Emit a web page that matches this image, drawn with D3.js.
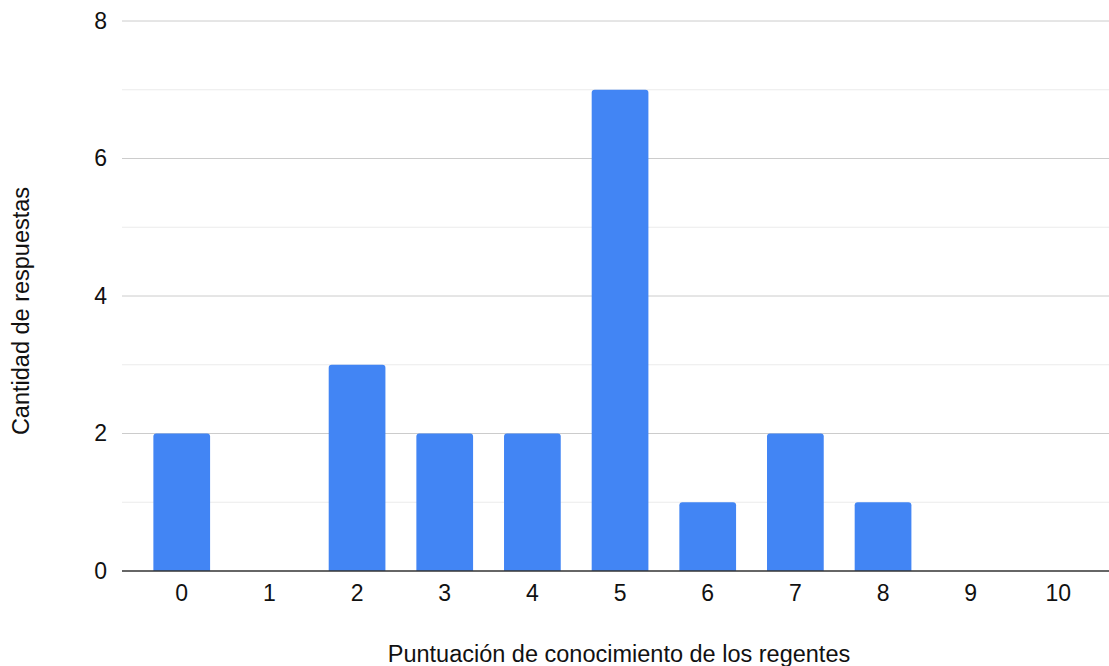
<!DOCTYPE html>
<html>
<head>
<meta charset="utf-8">
<script src="https://cdn.jsdelivr.net/npm/d3@7"></script>
<style>
  html, body { margin: 0; padding: 0; background: #fff; }
  svg { display: block; font-family: "Liberation Sans", Arial, Helvetica, sans-serif; }
</style>
</head>
<body>
<svg id="chart" width="1109" height="666"></svg>
<script>
// Histogram of knowledge scores
const categories = ["0", "1", "2", "3", "4", "5", "6", "7", "8", "9", "10"];
const counts = [2, 0, 3, 2, 2, 7, 1, 2, 1, 0, 0];
const yMajorTicks = [0, 2, 4, 6, 8];
const yMinorTicks = [1, 3, 5, 7];
const xTitle = "Puntuación de conocimiento de los regentes";
const yTitle = "Cantidad de respuestas";

const svg = d3.select("#chart");
const gridLeft = 122, gridRight = 1109;
const plotTop = 21, plotBottom = 571;
const tickFont = 23, titleFont = 23.5;

const x = d3.scaleBand()
  .domain(categories)
  .range([137.9, 1102.2])
  .paddingInner(0.353)
  .paddingOuter(0.1765);

const y = d3.scaleLinear()
  .domain([0, 8])
  .range([plotBottom, plotTop]);

// Minor gridlines
svg.append("g")
  .selectAll("line")
  .data(yMinorTicks)
  .join("line")
  .attr("x1", gridLeft).attr("x2", gridRight)
  .attr("y1", d => y(d)).attr("y2", d => y(d))
  .attr("stroke", "#ebebeb").attr("stroke-width", 1);

// Major gridlines
svg.append("g")
  .selectAll("line")
  .data(yMajorTicks.filter(d => d !== 0))
  .join("line")
  .attr("x1", gridLeft).attr("x2", gridRight)
  .attr("y1", d => y(d)).attr("y2", d => y(d))
  .attr("stroke", "#cccccc").attr("stroke-width", 1);

// Bars with slightly rounded tops
const r = 3;
function barPath(d) {
  const x0 = x(d.cat), w = x.bandwidth();
  const yTop = y(d.v), yBase = y(0);
  if (d.v <= 0) return "";
  return `M${x0},${yBase} V${yTop + r} Q${x0},${yTop} ${x0 + r},${yTop} H${x0 + w - r} Q${x0 + w},${yTop} ${x0 + w},${yTop + r} V${yBase} Z`;
}
svg.append("g")
  .selectAll("path")
  .data(categories.map((c, i) => ({ cat: c, v: counts[i] })))
  .join("path")
  .attr("d", barPath)
  .attr("fill", "#4285f4");

// Baseline
svg.append("line")
  .attr("x1", gridLeft).attr("x2", gridRight)
  .attr("y1", y(0)).attr("y2", y(0))
  .attr("stroke", "#333333").attr("stroke-width", 1.5);

// Y tick labels
const yAxis = d3.axisLeft(y).tickValues(yMajorTicks).tickSize(0).tickPadding(0).tickFormat(d3.format("d"));
const yg = svg.append("g").attr("transform", `translate(107,0)`).call(yAxis);
yg.select(".domain").remove();
yg.selectAll("text")
  .attr("font-size", tickFont)
  .attr("fill", "#111")
  .attr("font-family", "Liberation Sans, Arial, sans-serif");

// X tick labels
const xAxis = d3.axisBottom(x).tickSize(0).tickPadding(0);
const xg = svg.append("g").attr("transform", `translate(0,585)`).call(xAxis);
xg.select(".domain").remove();
xg.selectAll("text")
  .attr("font-size", tickFont)
  .attr("fill", "#111")
  .attr("font-family", "Liberation Sans, Arial, sans-serif");

// Axis titles
svg.append("text")
  .attr("x", 619).attr("y", 662)
  .attr("text-anchor", "middle")
  .attr("font-size", titleFont)
  .attr("fill", "#111")
  .text(xTitle);

svg.append("text")
  .attr("transform", "translate(28.5,311) rotate(-90)")
  .attr("text-anchor", "middle")
  .attr("font-size", titleFont)
  .attr("fill", "#111")
  .text(yTitle);
</script>
</body>
</html>
